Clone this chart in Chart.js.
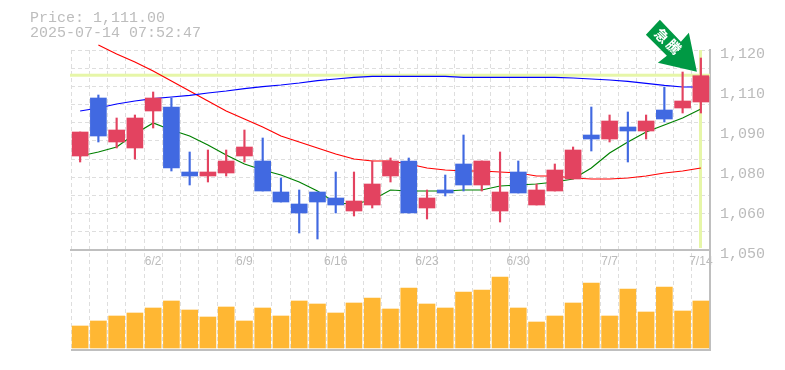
<!DOCTYPE html>
<html lang="ja">
<head>
  <meta charset="UTF-8" />
  <title>Price chart</title>
  <script src="https://cdn.jsdelivr.net/npm/chart.js"></script>
  <style>
    body { margin: 0; background: #fff; }
    #wrap { position: relative; width: 785px; height: 370px; }
    #info { position: absolute; left: 30px; top: 11px; font: 15px/15px 'Liberation Mono', monospace; color: #bdbdbd; white-space: pre; }
  </style>
</head>
<body>
  <div id="wrap">
    <div id="info"></div>
    <canvas id="chart" width="785" height="370"></canvas>
  </div>

  <script>
    const priceText = 'Price: 1,111.00';
    const timeText = '2025-07-14 07:52:47';

    const dates = ['5/27','5/28','5/29','5/30','6/2','6/3','6/4','6/5','6/6','6/9','6/10','6/11','6/12','6/13','6/16','6/17','6/18','6/19','6/20','6/23','6/24','6/25','6/26','6/27','6/30','7/1','7/2','7/3','7/4','7/7','7/8','7/9','7/10','7/11','7/14'];
    const shownDates = ['6/2','6/9','6/16','6/23','6/30','7/7','7/14'];

    const opens  = [1082.9,1103.2,1087.8,1085.7,1098.65,1100.05,1077.3,1075.9,1076.95,1082.9,1081.15,1070.3,1066.1,1070.3,1068.2,1063.65,1065.75,1075.9,1081.15,1064.7,1071,1080.1,1072.75,1063.65,1077.3,1065.75,1070.65,1074.85,1090.25,1088.85,1093.05,1091.65,1099,1099.7,1101.8];
    const closes = [1091.3,1089.9,1092,1096.2,1103.2,1078.7,1075.9,1077.3,1081.15,1086.05,1070.65,1066.8,1062.95,1066.8,1065.75,1067.15,1073.1,1081.15,1062.95,1068.2,1069.95,1072.75,1081.15,1070.3,1069.95,1071,1078,1085,1088.85,1095.15,1091.65,1095.15,1095.85,1102.15,1111];
    const highs  = [1091.3,1104.25,1096.2,1097.25,1105.3,1103.2,1084.3,1085,1085,1092,1089.2,1075.2,1071,1070.3,1077.3,1077.3,1081.15,1082.2,1082.2,1071,1076.25,1090.25,1081.15,1084.3,1081.15,1073.1,1080.1,1086.05,1100.05,1097.25,1098.3,1097.25,1107.05,1112.3,1117.2];
    const lows   = [1080.8,1087.8,1085.7,1081.85,1092.7,1077.65,1072.75,1073.8,1075.9,1080.8,1070.65,1066.8,1055.95,1053.85,1062.95,1061.9,1064.7,1073.8,1062.95,1060.85,1068.9,1070.65,1070.65,1059.8,1069.95,1065.75,1070.65,1074.85,1084.65,1087.8,1080.8,1088.85,1094.8,1097.95,1097.95];

    const maBlue  = [1098.65,1099.7,1101.1,1102.15,1103,1103.55,1104.1,1104.95,1105.65,1106.5,1107.2,1107.75,1108.45,1109.3,1109.85,1110.4,1110.8,1110.8,1110.8,1110.8,1110.8,1110.45,1110.45,1110.45,1110.45,1110.45,1110.45,1110.2,1109.85,1109.5,1109,1108.3,1107.6,1107.05,1107.05];
    const maRed   = [null,1121.75,1118.6,1115.8,1112.65,1109.15,1105.65,1102.15,1098.65,1095.85,1093.05,1089.9,1087.8,1085.7,1083.6,1081.85,1081.15,1081.15,1080.1,1078.7,1078,1077.65,1077.65,1077.3,1076.95,1075.9,1075.9,1075.2,1074.85,1074.85,1075.2,1075.9,1076.95,1077.65,1078.7];
    const maGreen = [1082.9,1084.3,1086.05,1090.6,1094.45,1092,1089.9,1086.75,1083.25,1080.1,1078,1076.25,1073.8,1070.65,1066.45,1066.1,1067.5,1071,1070.65,1070.65,1070.65,1071,1071,1072.4,1072.75,1073.1,1073.8,1074.85,1078.7,1083.95,1087.8,1091.3,1093.75,1096.2,1099.35];

    const volumes = [22,27,32,35,40,47,38,31,41,27,40,32,47,44,35,45,50,39,60,44,40,56,58,71,40,26,32,45,65,32,59,36,61,37,47];

    const priceGrid = [1120,1113.64,1107.27,1100.91,1094.55,1088.18,1081.82,1075.45,1069.09,1062.73,1056.36,1050];
    const priceTicks = [1120,1106,1092,1078,1064,1050];
    const priceTickLabels = ['1,120','1,110','1,090','1,080','1,060','1,050'];
    const arrowWord = ['急','騰'];

    const UP = '#e34360', DOWN = '#4169e1', GRID = '#dedede', AXIS = '#bfbfbf', TEXT = '#bbbbbb', MARK = '#e6f6a8';

    document.getElementById('info').textContent = priceText + '\n' + timeText;

    const candleColors = closes.map((c, i) => c >= opens[i] ? UP : DOWN);

    function maLine(data, color) {
      return { type: 'line', data, yAxisID: 'y', borderColor: color, borderWidth: 1.2, pointRadius: 0, tension: 0, clip: false, order: 3 };
    }

    // last price marks sit under the candles
    const lastMarks = {
      id: 'lastMarks',
      beforeDatasetsDraw(chart) {
        const { ctx, chartArea, scales } = chart;
        const last = closes.length - 1;
        const px = scales.x.getPixelForValue(last);
        const py = scales.y.getPixelForValue(closes[last]);
        ctx.save();
        ctx.fillStyle = MARK;
        ctx.fillRect(chartArea.left - 1, py - 2, chartArea.right - chartArea.left + 1, 3);
        ctx.fillRect(Math.round(px) - 2, scales.y.top, 3, scales.y.bottom - scales.y.top - 2);
        ctx.restore();
      }
    };

    const arrowMark = {
      id: 'arrowMark',
      afterDatasetsDraw(chart) {
        const { ctx, scales } = chart;
        const last = closes.length - 1;
        const tipX = scales.x.getPixelForValue(last) - 4;
        const tipY = scales.y.getPixelForValue(closes[last]) - 4;
        const shape = [[0,0],[-39,-9],[-30,-16],[-51,-37],[-37,-52],[-16,-30],[-8,-39]];
        ctx.save();
        ctx.translate(tipX, tipY);
        ctx.fillStyle = '#009944';
        ctx.beginPath();
        shape.forEach((p, i) => i ? ctx.lineTo(p[0], p[1]) : ctx.moveTo(p[0], p[1]));
        ctx.closePath();
        ctx.fill();
        ctx.fillStyle = '#fff';
        ctx.font = 'bold 14px "Noto Sans CJK JP"';
        ctx.textAlign = 'center';
        ctx.textBaseline = 'middle';
        [[-35,-36],[-23,-25]].forEach((p, i) => {
          ctx.save();
          ctx.translate(p[0], p[1]);
          ctx.rotate(Math.PI / 4);
          ctx.fillText(arrowWord[i], 0, 0);
          ctx.restore();
        });
        ctx.restore();
      }
    };

    new Chart(document.getElementById('chart'), {
      data: {
        labels: dates,
        datasets: [
          { type: 'bar', data: closes.map((c, i) => [opens[i], c]), yAxisID: 'y', backgroundColor: candleColors, barThickness: 16, grouped: false, order: 1 },
          { type: 'bar', data: highs.map((h, i) => [lows[i], h]), yAxisID: 'y', backgroundColor: candleColors, barThickness: 1.5, grouped: false, order: 2 },
          maLine(maBlue, '#0000ff'),
          maLine(maRed, '#ff0000'),
          maLine(maGreen, '#008000'),
          { type: 'bar', data: volumes, yAxisID: 'vol', backgroundColor: '#ffb733', barThickness: 16, grouped: false, order: 4 }
        ]
      },
      options: {
        responsive: false,
        animation: false,
        layout: { padding: { top: 50, left: 71, right: 0, bottom: 20 } },
        plugins: { legend: { display: false }, tooltip: { enabled: false } },
        scales: {
          x: {
            position: { y: 1050 },
            grid: { color: GRID, drawTicks: false },
            border: { color: AXIS, width: 2, dash: [4, 3] },
            ticks: {
              autoSkip: false, maxRotation: 0, padding: 4, color: TEXT,
              font: { family: "'Liberation Sans'", size: 12 },
              callback(v, i) { return shownDates.includes(dates[i]) ? dates[i] : ''; }
            }
          },
          y: {
            position: 'right', stack: 'panels', stackWeight: 2, min: 1050, max: 1120,
            afterFit(s) { s.width = 75; },
            afterBuildTicks(s) {
              s.ticks = [...new Set([...priceGrid, ...priceTicks])].map(value => ({ value }));
            },
            grid: {
              drawTicks: false,
              color: c => priceGrid.includes(c.tick.value) ? GRID : 'rgba(0,0,0,0)'
            },
            border: { color: AXIS, width: 2, dash: [4, 3] },
            ticks: {
              padding: 10, labelOffset: 4, color: TEXT, autoSkip: false,
              font: { family: "'Liberation Mono'", size: 15 },
              callback(v) { const i = priceTicks.indexOf(v); return i < 0 ? '' : priceTickLabels[i]; }
            }
          },
          vol: {
            position: 'right', stack: 'panels', stackWeight: 1, min: -2, max: 98,
            afterFit(s) { s.width = 75; },
            afterBuildTicks(s) { s.ticks = [{ value: -2 }]; },
            grid: { drawTicks: false, color: AXIS, lineWidth: 2 },
            border: { color: AXIS, width: 2 },
            ticks: { display: false }
          }
        }
      },
      plugins: [lastMarks, arrowMark]
    });
  </script>
</body>
</html>
